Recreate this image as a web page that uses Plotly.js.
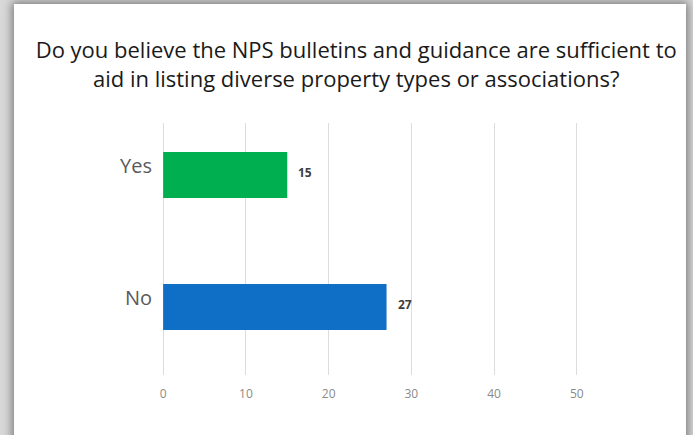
<!DOCTYPE html>
<html>
<head>
<meta charset="utf-8">
<script src="https://cdn.plot.ly/plotly-3.0.1.min.js"></script>
<style>
  html, body { margin: 0; padding: 0; background: #d9d9d9; overflow: hidden; }
  #frame { position: absolute; left: 14px; top: 4px; width: 672px; height: 470px;
           background: #ffffff; box-shadow: 0 0 9px 2px rgba(0,0,0,0.45); }
  #chart { position: absolute; left: 0; top: 0; width: 693px; height: 435px; }
</style>
</head>
<body>
<div id="frame"></div>
<div id="chart"></div>
<script>
const categories = ["No", "Yes"];
const values = [27, 15];
const barColors = ["#0f6fc6", "#00b050"];
const tickVals = [0, 10, 20, 30, 40, 50];
const titleText = "Do you believe the NPS bulletins and guidance are sufficient to<br>aid in listing diverse property types or associations?";

const trace = {
  type: "bar",
  orientation: "h",
  x: values,
  y: categories,
  width: 0.35,
  marker: { color: barColors, line: { width: 0 } },
  hoverinfo: "none"
};

const valueLabels = categories.map((c, i) => ({
  x: values[i], y: c, xref: "x", yref: "y",
  text: "<b>" + values[i] + "</b>",
  showarrow: false, xanchor: "left", xshift: 9, yshift: 3,
  font: { family: "Open Sans, sans-serif", size: 12, color: "#404040" }
}));

const categoryLabels = categories.map((c) => ({
  x: 0, y: c, xref: "x", yref: "y",
  text: c,
  showarrow: false, xanchor: "right", xshift: -9, yshift: 10,
  font: { family: "Open Sans, sans-serif", size: 20, color: "#595959" }
}));

const layout = {
  width: 693, height: 435,
  paper_bgcolor: "rgba(0,0,0,0)",
  plot_bgcolor: "rgba(0,0,0,0)",
  margin: { l: 159, r: 112, t: 123, b: 60 },
  title: {
    text: titleText,
    x: 0.514, xanchor: "center", y: 0.866, yanchor: "middle",
    font: { family: "Open Sans, sans-serif", size: 22, color: "#1a1a1a" }
  },
  xaxis: {
    range: [-0.5, 50.5],
    tickvals: tickVals,
    showgrid: true, gridcolor: "#dcdcdc", gridwidth: 1,
    zeroline: false, showline: false,
    ticks: "", ticklabelstandoff: 10,
    tickfont: { family: "Open Sans, sans-serif", size: 12, color: "#8a8a8a" },
    fixedrange: true
  },
  yaxis: {
    type: "category",
    categoryorder: "array", categoryarray: categories,
    range: [-0.515, 1.394],
    showgrid: false, zeroline: false, showline: false,
    showticklabels: false, ticks: "",
    fixedrange: true
  },
  annotations: valueLabels.concat(categoryLabels),
  showlegend: false
};

Plotly.newPlot("chart", [trace], layout, { displayModeBar: false, staticPlot: true });
</script>
</body>
</html>
